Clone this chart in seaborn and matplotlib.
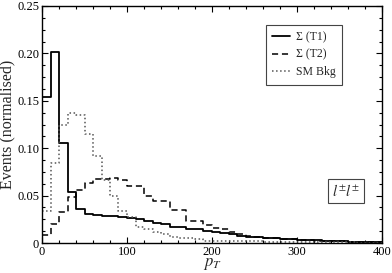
import numpy as np
import pandas as pd
import matplotlib
matplotlib.use("Agg")
import matplotlib.pyplot as plt
import seaborn as sns
from matplotlib.ticker import MultipleLocator, FuncFormatter

bin_left = list(range(0, 400, 10))

t1 = [0.154, 0.202, 0.106, 0.054, 0.036, 0.031, 0.0295, 0.029, 0.028, 0.027,
      0.0265, 0.025, 0.023, 0.021, 0.0197, 0.017, 0.017, 0.015, 0.0148, 0.0127,
      0.0113, 0.0102, 0.0092, 0.0077, 0.0067, 0.006, 0.0055, 0.005, 0.0045, 0.004,
      0.0035, 0.003, 0.0027, 0.0024, 0.002, 0.0018, 0.0015, 0.0013, 0.001, 0.0008]

t2 = [0.008, 0.020, 0.033, 0.049, 0.056, 0.063, 0.0675, 0.0675, 0.069, 0.0665,
      0.060, 0.060, 0.050, 0.044, 0.044, 0.035, 0.035, 0.023, 0.023, 0.019,
      0.016, 0.0145, 0.012, 0.009, 0.0075, 0.006, 0.0055, 0.005, 0.0045, 0.004,
      0.0035, 0.003, 0.0025, 0.0022, 0.002, 0.0017, 0.0015, 0.0012, 0.001, 0.0008]

sm = [0.034, 0.084, 0.124, 0.137, 0.135, 0.115, 0.092, 0.066, 0.050, 0.034,
      0.027, 0.0166, 0.0144, 0.012, 0.009, 0.0067, 0.005, 0.005, 0.004, 0.0025,
      0.0025, 0.002, 0.002, 0.002, 0.0018, 0.0016, 0.0015, 0.0014, 0.0013, 0.0012,
      0.001, 0.0009, 0.0008, 0.0008, 0.0007, 0.0006, 0.0006, 0.0005, 0.0005, 0.0004]

labels = ["Σ (T1)", "Σ (T2)", "SM Bkg"]

sns.set_theme(style="ticks")
plt.rcParams["font.family"] = ["Liberation Serif", "DejaVu Serif"]
plt.rcParams["mathtext.fontset"] = "stix"

fig = plt.figure(figsize=(3.92, 2.73), dpi=100)
ax = fig.add_axes([42/392, 1-243/273, 340/392, 237/273])

centers = [b + 5 for b in bin_left]
styles = [("-", "black", 1.3), ((0, (4, 2.5)), "black", 1.1), (":", "#555555", 1.1)]
for vals, lab, (ls, col, lw) in zip([t1, t2, sm], labels, styles):
    df = pd.DataFrame({"pt": centers, "w": vals})
    sns.histplot(data=df, x="pt", weights="w", binwidth=10, binrange=(0, 400),
                 element="step", fill=False, color=col, linestyle=ls,
                 linewidth=lw, ax=ax, label=lab)

ax.set_xlim(0, 400)
ax.set_ylim(0, 0.25)
ax.xaxis.set_major_locator(MultipleLocator(100))
ax.xaxis.set_minor_locator(MultipleLocator(20))
ax.yaxis.set_major_locator(MultipleLocator(0.05))
ax.yaxis.set_minor_locator(MultipleLocator(0.0125))
ax.yaxis.set_major_formatter(FuncFormatter(lambda v, p: "0" if abs(v) < 1e-9 else f"{v:.2f}"))
ax.xaxis.set_major_formatter(FuncFormatter(lambda v, p: f"{int(round(v))}"))
ax.tick_params(which="both", direction="in", top=True, right=True, labelsize=9,
               width=0.8, colors="black")
ax.tick_params(which="major", length=4.5, pad=2)
ax.tick_params(which="minor", length=2.5)
for s in ax.spines.values():
    s.set_linewidth(1.0)
    s.set_color("black")

ax.set_ylabel("Events (normalised)", fontsize=11.5, labelpad=1)
ax.set_xlabel("$p_T$", fontsize=12, labelpad=-1)

leg = ax.legend(loc="upper right", bbox_to_anchor=(0.90, 0.945), fontsize=8.5,
                frameon=True, fancybox=False, edgecolor="#444444", framealpha=1,
                handlelength=1.5, handletextpad=0.5, borderpad=0.55,
                labelspacing=0.45)
leg.get_frame().set_linewidth(0.8)

ax.text(0.894, 0.22, r"$l^{\pm}l^{\pm}$", transform=ax.transAxes, fontsize=10.5,
        ha="center", va="center",
        bbox=dict(boxstyle="square,pad=0.25", fc="white", ec="#444444", lw=0.8))

fig.savefig("out.png", dpi=100)
